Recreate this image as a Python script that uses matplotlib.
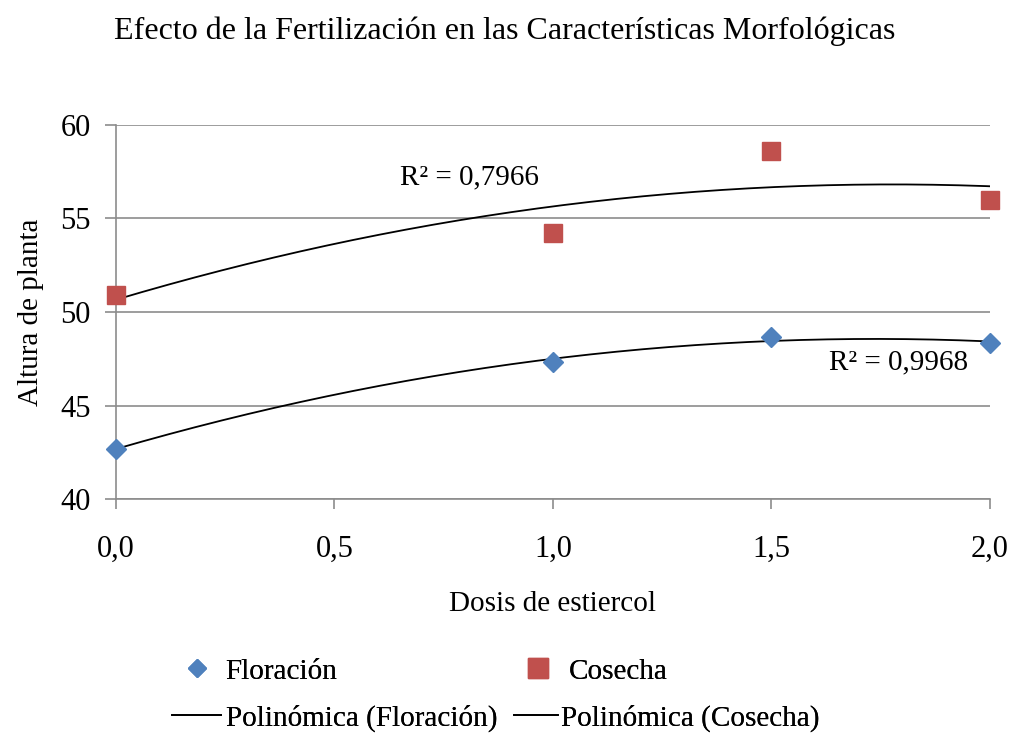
import numpy as np
import matplotlib.pyplot as plt
from matplotlib.lines import Line2D

plt.rcParams['font.family'] = ['Liberation Serif', 'DejaVu Serif']

# data
dosis = [0.0, 1.0, 1.5, 2.0]
floracion = [42.7, 47.35, 48.65, 48.35]
cosecha = [50.9, 54.2, 58.6, 56.0]
r2_labels = ["R² = 0,9968", "R² = 0,7966"]
xticks = [0.0, 0.5, 1.0, 1.5, 2.0]
xticklabels = ["0,0", "0,5", "1,0", "1,5", "2,0"]
yticks = [40, 45, 50, 55, 60]

blue = "#4F81BD"
red = "#C0504D"
grid_c = "#8C8C8C"

fig = plt.figure(figsize=(10.17, 7.33), dpi=100)
ax = fig.add_axes([0.114, 0.3192, 0.8594, 0.5103])

# second order polynomial trendlines (as Excel does)
xs = np.linspace(0, 2, 200)
pf = np.polyfit(dosis, floracion, 2)
pc = np.polyfit(dosis, cosecha, 2)
ax.plot(xs, np.polyval(pf, xs), color="black", lw=1.3, zorder=2)
ax.plot(xs, np.polyval(pc, xs), color="black", lw=1.3, zorder=2)

ax.plot(dosis, floracion, linestyle="none", marker="D", color=blue,
        markersize=10.5, zorder=3, clip_on=False)
ax.plot(dosis, cosecha, linestyle="none", marker="s", color=red,
        markersize=13, zorder=3, clip_on=False)

ax.text(1.79, 47.3, r2_labels[0], fontsize=21, ha="center", va="center")
ax.text(0.81, 57.2, r2_labels[1], fontsize=21, ha="center", va="center")

ax.set_xlim(0, 2)
ax.set_ylim(40, 60)
ax.set_xticks(xticks)
ax.set_xticklabels(xticklabels)
ax.set_yticks(yticks)
ax.tick_params(axis="both", labelsize=22, colors=grid_c, labelcolor="black",
               width=1.2, direction="out")
ax.tick_params(axis="x", pad=19, length=7)
ax.tick_params(axis="y", pad=10, length=8)
ax.yaxis.grid(True, color=grid_c, lw=1.2)
ax.set_axisbelow(True)
for s in ["top", "right"]:
    ax.spines[s].set_visible(False)
for s in ["left", "bottom"]:
    ax.spines[s].set_color(grid_c)
    ax.spines[s].set_linewidth(1.2)

ax.set_xlabel("Dosis de estiercol", fontsize=21, labelpad=19)
ax.set_ylabel("Altura de planta", fontsize=21, labelpad=12)
fig.text(0.496, 0.958, "Efecto de la Fertilización en las Características Morfológicas",
         fontsize=23, ha="center", va="center")

# legend: each entry placed like Excel lays it out
entries = [
    (Line2D([], [], ls="none", marker="D", color=blue, markersize=9), "Floración", 0.1794, 0.084, 1.0, 0.47),
    (Line2D([], [], ls="none", marker="s", color=red, markersize=14), "Cosecha", 0.5147, 0.084, 1.0, 0.54),
    (Line2D([], [], color="black", lw=1.3), "Polinómica (Floración)", 0.169, 0.020, 1.68, 0.18),
    (Line2D([], [], color="black", lw=1.3), "Polinómica (Cosecha)", 0.5054, 0.020, 1.5, 0.12),
]
for h, lab, x0, y0, hl, tp in entries:
    leg = fig.legend([h], [lab], frameon=False, fontsize=21, loc="center left",
                     bbox_to_anchor=(x0, y0), borderpad=0, borderaxespad=0,
                     handlelength=hl, handletextpad=tp)
    fig.add_artist(leg)

fig.savefig("out.png", dpi=100)
